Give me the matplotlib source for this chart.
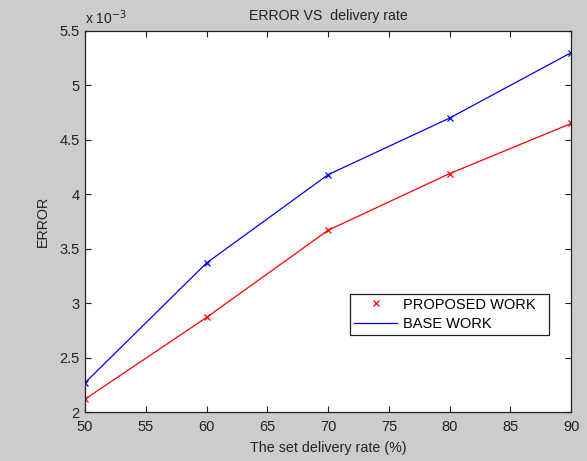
import matplotlib
matplotlib.use("Agg")
import matplotlib.pyplot as plt
from matplotlib.lines import Line2D

rate = [50, 60, 70, 80, 90]
proposed = [2.12, 2.87, 3.67, 4.19, 4.65]
base = [2.27, 3.37, 4.18, 4.70, 5.30]
xticks = [50, 55, 60, 65, 70, 75, 80, 85, 90]
yticks = [2, 2.5, 3, 3.5, 4, 4.5, 5, 5.5]

plt.rcParams['font.family'] = ['Liberation Sans', 'DejaVu Sans']
plt.rcParams['font.size'] = 10.5

fig = plt.figure(figsize=(5.87, 4.61), dpi=100, facecolor='#cccccc')
ax = fig.add_axes([0.145, 0.106, 0.828, 0.827])
ax.set_facecolor('white')

ax.plot(rate, proposed, color='red', lw=0.9, marker='x', ms=4, mew=0.9)
ax.plot(rate, base, color='blue', lw=0.9, marker='x', ms=4, mew=0.9)

ax.set_xlim(50, 90)
ax.set_ylim(2, 5.5)
ax.set_xticks(xticks)
ax.set_xticklabels([str(v) for v in xticks])
ax.set_yticks(yticks)
ax.set_yticklabels([f"{v:g}" for v in yticks])
ax.tick_params(direction='in', top=True, right=True, length=4, width=0.8,
               colors='#222222', labelcolor='#222222', labelsize=10.5)
ax.tick_params(axis='x', pad=6)
ax.tick_params(axis='y', pad=4)
for s in ax.spines.values():
    s.set_color('#222222')
    s.set_linewidth(0.9)

ax.set_xlabel('The set delivery rate (%)', color='#222222', labelpad=5, fontsize=10.3)
ax.set_ylabel('ERROR', color='#222222', labelpad=7, fontsize=10.3)
ax.set_title('ERROR VS  delivery rate', color='#222222', pad=8, fontsize=10.2)
ax.text(0.0, 1.01, r'x 10$^{-3}$', transform=ax.transAxes, ha='left', va='bottom',
        color='#222222', fontsize=10)

handles = [Line2D([], [], color='red', ls='none', marker='x', ms=4, mew=0.9),
           Line2D([], [], color='blue', lw=0.9)]
leg = ax.legend(handles, ['PROPOSED WORK', 'BASE WORK'],
                loc='upper left', bbox_to_anchor=(0.545, 0.186, 0.409, 0.124),
                mode='expand', fancybox=False, framealpha=1, edgecolor='#222222',
                borderpad=0.25, labelspacing=0.4, handlelength=3.0,
                handletextpad=0.35, borderaxespad=0, fontsize=10.5)
leg.get_frame().set_linewidth(0.9)

fig.savefig('out.png', dpi=100, facecolor=fig.get_facecolor())
